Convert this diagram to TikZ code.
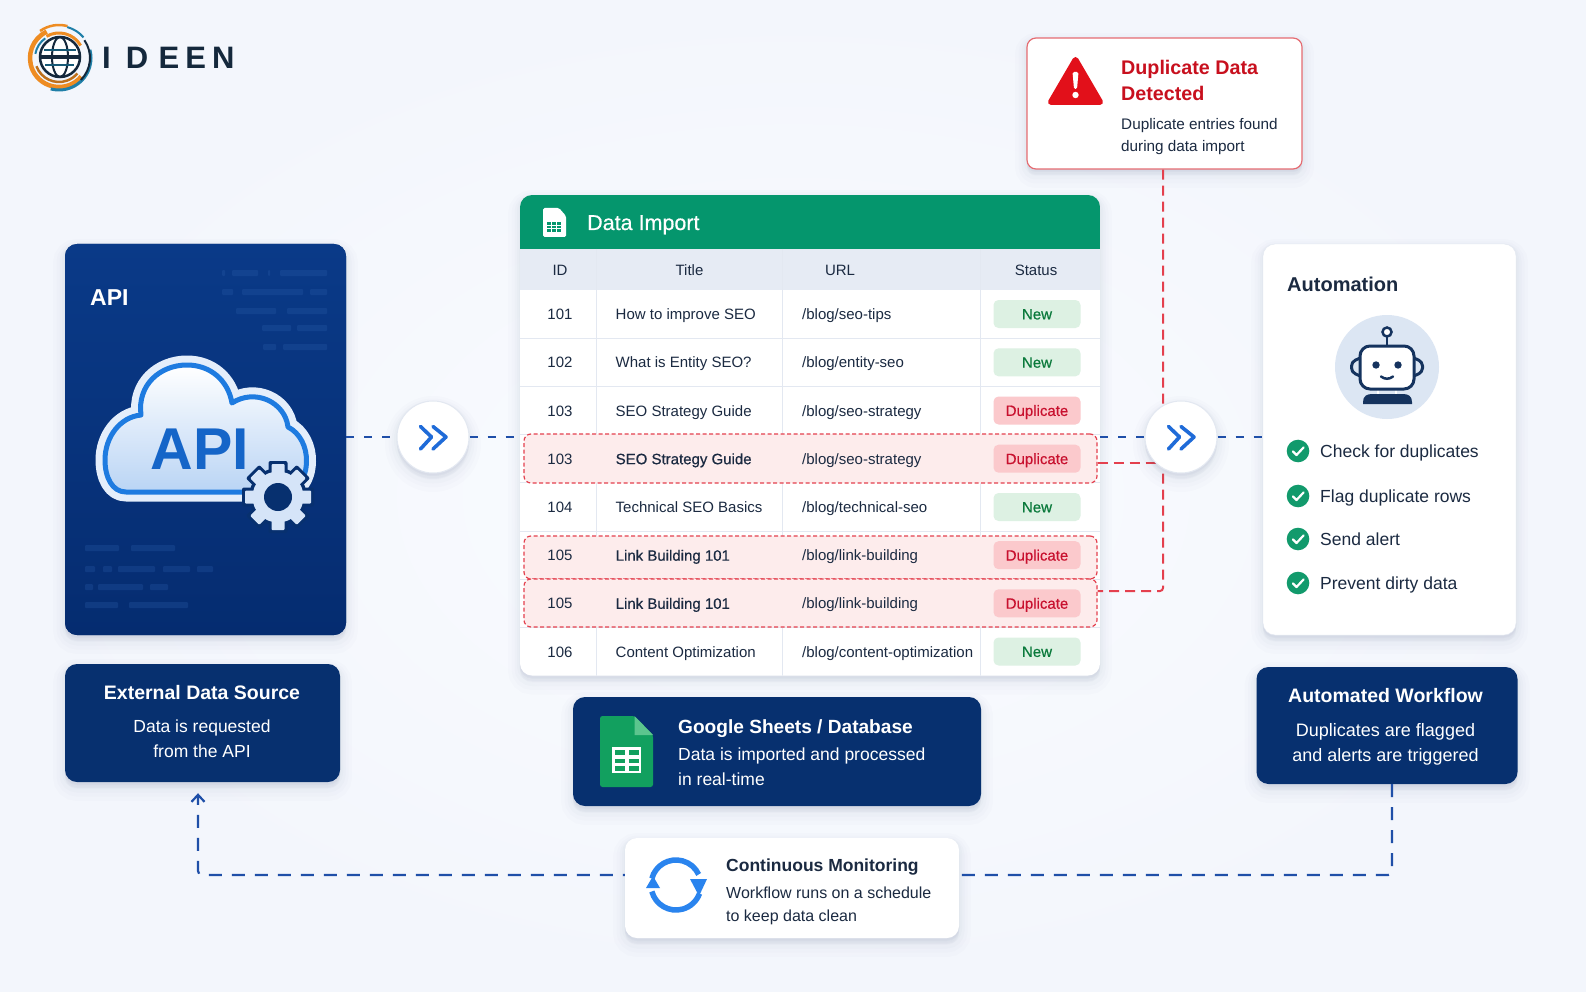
\documentclass[tikz,border=0pt]{standalone}
\usepackage{fontspec}
\setmainfont{Liberation Sans}
\newfontfamily\medfont[FakeBold=0.5]{Liberation Sans}
\usetikzlibrary{arrows.meta}

\definecolor{bgcenter}{HTML}{FAFCFF}
\definecolor{bgedge}{HTML}{F3F6FC}
\definecolor{navytop}{HTML}{0A3A88}
\definecolor{navybot}{HTML}{052C70}
\definecolor{navybox}{HTML}{07306F}
\definecolor{navybar}{HTML}{2A5CA8}
\definecolor{shadowblue}{HTML}{24406E}
\definecolor{sheetgreen}{HTML}{05966D}
\definecolor{iconGreen}{HTML}{12A05F}
\definecolor{foldgreen}{HTML}{5CC58E}
\definecolor{headgray}{HTML}{E6EBF4}
\definecolor{gridgray}{HTML}{E3E8F1}
\definecolor{inkdark}{HTML}{1B2A41}
\definecolor{pillnewbg}{HTML}{DDF1E3}
\definecolor{pillnewtx}{HTML}{0B7A3C}
\definecolor{pilldupbg}{HTML}{FBC9CC}
\definecolor{pilldnptx}{HTML}{C8102E}
\definecolor{rowpink}{HTML}{FDECEC}
\definecolor{reddash}{HTML}{E4404E}
\definecolor{bluedash}{HTML}{1F4FA8}
\definecolor{alertred}{HTML}{C8101E}
\definecolor{warnred}{HTML}{E2101A}
\definecolor{alertedge}{HTML}{E56C72}
\definecolor{skyblue}{HTML}{1E7BE0}
\definecolor{apiblue}{HTML}{1565C8}
\definecolor{chevblue}{HTML}{1F6BD8}
\definecolor{syncblue}{HTML}{2A84EE}
\definecolor{checkgreen}{HTML}{129A6C}
\definecolor{robotnavy}{HTML}{15335E}
\definecolor{robotbg}{HTML}{DCE6F3}
\definecolor{gearfill}{HTML}{D5E4F8}
\definecolor{cloudhalo}{HTML}{E4EEFB}
\definecolor{logoorange}{HTML}{EE8C22}
\definecolor{logoteal}{HTML}{1F7FA8}
\definecolor{logodark}{HTML}{14283C}

\newcommand{\fs}[2]{\fontsize{#1}{#2}\selectfont}

\tikzset{
    softshadow/.style={
        preaction={draw=shadowblue,fill=shadowblue,opacity=.012,line width=24,transform canvas={yshift=-7pt}},
        preaction={draw=shadowblue,fill=shadowblue,opacity=.012,line width=17,transform canvas={yshift=-6pt}},
        preaction={draw=shadowblue,fill=shadowblue,opacity=.014,line width=11,transform canvas={yshift=-5pt}},
        preaction={draw=shadowblue,fill=shadowblue,opacity=.014,line width=6,transform canvas={yshift=-3pt}},
        preaction={draw=shadowblue,fill=shadowblue,opacity=.014,line width=2,transform canvas={yshift=-2pt}},
    },
    navycard/.style={softshadow,rectangle,rounded corners=12,inner sep=0,fill=navybox},
    whitecard/.style={softshadow,rectangle,rounded corners=12,inner sep=0,fill=white},
    hopcircle/.style={softshadow,circle,inner sep=0,minimum size=72,fill=white,draw=gridgray,line width=1},
    txt/.style={inner sep=0,text=inkdark},
    whitetxt/.style={inner sep=0,text=white},
    cardtitle/.style={whitetxt,anchor=base,font=\fs{19.5}{24}\bfseries},
    cardbody/.style={whitetxt,align=center,font=\fs{17.5}{25}},
    pillnew/.style={rectangle,rounded corners=5,inner sep=0,minimum width=87,minimum height=28,
        text height=10.8pt,text depth=0pt,
        fill=pillnewbg,text=pillnewtx,font=\fs{15}{18}\medfont},
    pilldup/.style={pillnew,fill=pilldupbg,text=pilldnptx},
    duprow/.style={rectangle,rounded corners=7,inner sep=0,minimum width=573,
        fill=rowpink,draw=reddash,line width=1.2,dash pattern=on 4pt off 2.5pt},
    bluelink/.style={bluedash,line width=2,dash pattern=on 8pt off 10pt},
    redlink/.style={reddash,line width=2,dash pattern=on 10pt off 6pt,rounded corners=3},
    looplink/.style={bluedash,line width=2.2,dash pattern=on 13pt off 10pt,rounded corners=4},
    robotline/.style={robotnavy,line width=3},
}

\begin{document}
\begin{tikzpicture}[x=1pt,y=-1pt]

    \useasboundingbox (0,0) rectangle (1586,992);
    \shade[inner color=bgcenter,outer color=bgedge] (0,0) rectangle (1586,992);

    % logo
    \begin{scope}[shift={(59,58)},y=1pt]
        \draw[logoorange,line width=4.5] (115:29) arc[start angle=115,end angle=320,radius=29];
        \draw[logoteal,line width=3] (255:32) arc[start angle=255,end angle=375,radius=32];
        \draw[logodark,line width=2] (-45:31) arc[start angle=-45,end angle=35,radius=31];
        \draw[logoorange,line width=2.5] (125:33) arc[start angle=125,end angle=75,radius=33];
        \draw[logoteal,line width=2] (75:32) arc[start angle=75,end angle=40,radius=32];
        \draw[logoorange,line width=3] (120:25) arc[start angle=120,end angle=30,radius=25];
        \draw[logoteal,line width=2] (170:24) arc[start angle=170,end angle=125,radius=24];
        \draw[logoorange!80!black,line width=2.5] (200:24) arc[start angle=200,end angle=320,radius=24];
        \draw[logodark,line width=2.5,fill=white] (1,1) circle (20);
        \draw[logodark,line width=2] (1,-19) arc[start angle=-90,end angle=90,x radius=8,y radius=20];
        \draw[logodark,line width=2] (1,21) arc[start angle=90,end angle=270,x radius=8,y radius=20];
        \draw[logodark,line width=4] (-18,1) -- (20,1);
        \draw[logoteal!70!black,line width=2.5] (-15,8) -- (17,8) (-14,-7) -- (15,-7);
    \end{scope}
    \node[txt,anchor=base west,font=\fs{31}{36}\bfseries,text=logodark] (logotext) at (102,69)
        {I\kern15pt D\kern10.5pt E\kern6pt E\kern6pt N};

    % cards that carry the links
    \node[navycard,minimum width=281,minimum height=391,top color=navytop,bottom color=navybot] (apicard) at (205.5,439.5) {};
    \node[navycard,minimum width=275,minimum height=118] (extcard) at (202.5,723) {};
    \node[navycard,minimum width=408,minimum height=109] (sheetscard) at (777,751.5) {};
    \node[whitecard,minimum width=334,minimum height=100] (monitorcard) at (792,888) {};
    \node[navycard,minimum width=261,minimum height=117] (flowcard) at (1387,725.5) {};
    \node[whitecard,minimum width=253,minimum height=391,draw=gridgray] (autocard) at (1389.5,439.5) {};
    \node[whitecard,minimum width=275,minimum height=131,rounded corners=9,draw=alertedge,line width=1.2] (alertcard) at (1164.5,103.5) {};
    \node[whitecard,minimum width=580,minimum height=480.5] (tablecard) at (810,435.25) {};

    % faint code lines on the api card
    \foreach \yy/\xa/\xb in {273/222/225,273/232/258,273/268/270,273/280/327,
        292/222/233,292/242/303,292/310/327,311/236/276,311/287/327,
        328/262/291,328/297/327,347/263/276,347/283/327,
        548/85/119,548/131/175,569/85/95,569/103/112,569/118/155,569/163/190,569/197/213,
        587/85/93,587/98/143,587/150/168,605/85/118,605/129/188}
        \fill[navybar,opacity=.3,rounded corners=1] (\xa,\yy-3) rectangle (\xb,\yy+3);

    \node[whitetxt,anchor=base west,font=\fs{23}{26}\bfseries] (apilabel) at (90,305) {API};

    % cloud
    \def\cloudPath{(126,492) .. controls (112,492) and (105,477) .. (105,460)
        .. controls (105,437) and (120,417) .. (141,415)
        .. controls (137,385) and (160,365) .. (187,365)
        .. controls (210,365) and (228,380) .. (232,403)
        .. controls (255,388) and (285,402) .. (288,427)
        .. controls (300,433) and (307,447) .. (306.5,462)
        .. controls (306,478) and (298,492) .. (282,492) -- cycle}
    \draw[cloudhalo,line width=19,line join=round] \cloudPath;
    \path[draw=skyblue,line width=5,line join=round,top color=white,bottom color=gearfill!85!skyblue] \cloudPath;
    \node[txt,text=apiblue,font=\fs{59}{60}\bfseries] (cloudtext) at (200,449) {API};

    % gear
    \def\gearX{278}
    \def\gearY{497}
    \foreach \a in {0,45,...,315}
        \fill[navybox,rotate around={\a:(\gearX,\gearY)},rounded corners=2] (\gearX-9.5,\gearY-36) rectangle (\gearX+9.5,\gearY);
    \fill[navybox] (\gearX,\gearY) circle (29);
    \foreach \a in {0,45,...,315}
        \fill[gearfill,rotate around={\a:(\gearX,\gearY)},rounded corners=1] (\gearX-6.5,\gearY-33) rectangle (\gearX+6.5,\gearY);
    \fill[gearfill] (\gearX,\gearY) circle (25.5);
    \fill[navybox] (\gearX,\gearY) circle (14);

    % table body
    \def\tableOutline{[rounded corners=12] (520,195) rectangle (1100,675.5)}
    \begin{scope}
        \clip \tableOutline;
        \fill[sheetgreen] (520,195) rectangle (1100,249);
        \fill[headgray] (520,249) rectangle (1100,290);
        \foreach \yy in {338.2,386.4,434.6,482.8,531,579.2,627.4}
            \draw[gridgray,line width=1] (520,\yy) -- (1100,\yy);
        \foreach \xx in {596,782,980.5}
            \draw[gridgray,line width=1] (\xx,249) -- (\xx,675.5);
    \end{scope}

    % sheet icon in the header
    \fill[white,rounded corners=1.5] (543,208) -- (559,208) -- (566,216) -- (566,237) -- (543,237) -- cycle;
    \fill[sheetgreen] (547,222) rectangle (561,232);
    \foreach \xx in {551.3,556.3}
        \draw[white,line width=1.2] (\xx,222) -- (\xx,232);
    \foreach \yy in {225.3,228.7}
        \draw[white,line width=1.2] (547,\yy) -- (561,\yy);
    \node[whitetxt,anchor=base west,font=\fs{21.5}{24}\medfont] (tabletitle) at (587,230) {Data Import};

    \node[txt,anchor=base,font=\fs{15}{18}] (headid) at (560,276) {ID};
    \node[txt,anchor=base,font=\fs{15}{18}] (headtitle) at (689.5,276) {Title};
    \node[txt,anchor=base,font=\fs{15}{18}] (headurl) at (840,276) {URL};
    \node[txt,anchor=base,font=\fs{15}{18}] (headstatus) at (1036,276) {Status};

    % flagged rows
    \node[duprow,minimum height=49] (dupA) at (810.5,458.5) {};
    \node[duprow,minimum height=43] (dupB) at (810.5,557.5) {};
    \node[duprow,minimum height=48] (dupC) at (810.5,603) {};

    % row number, y, id, title, url, text font, pill style, pill text
    \def\tablerow#1#2#3#4#5#6#7#8{
        \node[txt,anchor=base,font=\fs{15}{18}] (rowid#1) at (560,#2+5.5) {#3};
        \node[txt,anchor=base west,font=\fs{15}{18}#6] (rowtitle#1) at (615.5,#2+5.5) {#4};
        \node[txt,anchor=base west,font=\fs{15}{18}] (rowurl#1) at (802,#2+5.5) {#5};
        \node[#7] (rowpill#1) at (1037,#2) {#8};
    }
    \tablerow{1}{314}{101}{How to improve SEO}{/blog/seo-tips}{}{pillnew}{New}
    \tablerow{2}{362.3}{102}{What is Entity SEO?}{/blog/entity-seo}{}{pillnew}{New}
    \tablerow{3}{410.5}{103}{SEO Strategy Guide}{/blog/seo-strategy}{}{pilldup}{Duplicate}
    \tablerow{4}{458.7}{103}{SEO Strategy Guide}{/blog/seo-strategy}{\medfont}{pilldup}{Duplicate}
    \tablerow{5}{507}{104}{Technical SEO Basics}{/blog/technical-seo}{}{pillnew}{New}
    \tablerow{6}{555.2}{105}{Link Building 101}{/blog/link-building}{\medfont}{pilldup}{Duplicate}
    \tablerow{7}{603.3}{105}{Link Building 101}{/blog/link-building}{\medfont}{pilldup}{Duplicate}
    \tablerow{8}{651.5}{106}{Content Optimization}{/blog/content-optimization}{}{pillnew}{New}

    % red links run behind the second hop
    \coordinate (redbranch) at (1163,463);
    \coordinate (redcorner) at (1163,591);
    \draw[redlink] (alertcard.south -| redcorner) -- (redcorner) -- (dupC.east |- redcorner);
    \draw[redlink] (dupA.east |- redbranch) -- (redbranch);

    \node[hopcircle] (hopA) at (433,437) {};
    \node[hopcircle] (hopB) at (1181,437) {};
    \draw[bluelink] (apicard.east |- hopA) -- (hopA);
    \draw[bluelink] (hopA) -- (tablecard.west |- hopA);
    \draw[bluelink] (tablecard.east |- hopB) -- (hopB);
    \draw[bluelink] (hopB) -- (autocard.west |- hopB);
    \foreach \hop in {hopA,hopB}
        \draw[shift={(\hop)},chevblue,line width=3.6,line cap=round,line join=round]
            (-12.5,-10.5) -- (-1.5,0) -- (-12.5,12) (0,-10.5) -- (13,0) -- (0,12);

    % alert
    \fill[warnred,draw=warnred,line width=6,line join=round] (1075.5,60) -- (1100,102) -- (1051,102) -- cycle;
    \fill[white,rounded corners=1.5] (1072.5,72) -- (1078.5,72) -- (1077,89) -- (1074,89) -- cycle;
    \fill[white] (1075.5,95) circle (3.2);
    \node[txt,text=alertred,anchor=north west,align=left,font=\fs{19.7}{26}\bfseries] (alerttitle) at (1121,60) {Duplicate Data\\Detected};
    \node[txt,anchor=west,align=left,font=\fs{15.3}{22}] (alertbody) at (1121,136.5) {Duplicate entries found\\during data import};

    % automation
    \node[txt,anchor=base west,font=\fs{20}{24}\bfseries] (autotitle) at (1287,291) {Automation};
    \fill[robotbg] (1387,367) circle (52);
    \draw[robotline,rounded corners=4] (1360,358) -- (1351.5,362) -- (1351.5,372) -- (1360,376);
    \draw[robotline,rounded corners=4] (1414,358) -- (1422.5,362) -- (1422.5,372) -- (1414,376);
    \draw[robotnavy,line width=2.5] (1387,336.5) -- (1387,346);
    \draw[robotnavy,line width=2.5,fill=white] (1387,332) circle (4.5);
    \draw[white,line width=1.5] (1378,389) -- (1378,394) (1396,389) -- (1396,394);
    \draw[robotline,fill=white,rounded corners=10] (1360,346) rectangle (1414,389);
    \fill[robotnavy] (1376,365) circle (3.7);
    \fill[robotnavy] (1398,365) circle (3.7);
    \draw[robotnavy,line width=2.5,line cap=round] (1381,376.5) .. controls (1385,379.5) and (1389,379.5) .. (1393,376.5);
    \fill[robotnavy] (1363,404) -- (1363,402) .. controls (1363,396) and (1367,394) .. (1372,394)
        -- (1403,394) .. controls (1408,394) and (1412,396) .. (1412,402) -- (1412,404) -- cycle;
    \foreach \yy/\ctext [count=\ci] in {451/Check for duplicates,496/Flag duplicate rows,539/Send alert,583/Prevent dirty data} {
        \fill[checkgreen] (1298,\yy) circle (11.3);
        \draw[white,line width=2.2,line cap=round,line join=round] (1293,\yy+.5) -- (1296.5,\yy+4) -- (1303.5,\yy-3.5);
        \node[txt,anchor=base west,font=\fs{17.5}{20}] (check\ci) at (1320,\yy+6) {\ctext};
    }

    % captions
    \node[cardtitle] (exttitle) at (202,699) {External Data Source};
    \node[cardbody] (extbody) at (202,739) {Data is requested\\from the API};

    \fill[iconGreen,rounded corners=2.5] (600,716) -- (634.5,716) -- (653,735) -- (653,787) -- (600,787) -- cycle;
    \fill[foldgreen] (634.5,716) -- (653,735) -- (634.5,735) -- cycle;
    \fill[white] (612,747) rectangle (641,773);
    \foreach \xx in {615,629}
        \foreach \yy in {750,758.5,766}
            \fill[iconGreen] (\xx,\yy) rectangle (\xx+9.5,\yy+4.5);
    \node[cardtitle,anchor=base west,font=\fs{19.1}{24}\bfseries] (sheetstitle) at (678,733) {Google Sheets / Database};
    \node[cardbody,anchor=west,align=left] (sheetsbody) at (678,767) {Data is imported and processed\\in real-time};

    \begin{scope}[shift={(676,885)},y=1pt]
        \draw[syncblue,line width=5.5] (165:25) arc[start angle=165,end angle=25,radius=25];
        \draw[syncblue,line width=5.5] (195:25) arc[start angle=195,end angle=340,radius=25];
        \fill[syncblue] (14,6) -- (31,6) -- (23,-11) -- cycle;
        \fill[syncblue] (-30,-3) -- (-16,-3) -- (-23,9) -- cycle;
    \end{scope}
    \node[txt,anchor=base west,font=\fs{17.5}{20}\bfseries] (monitortitle) at (726,871) {Continuous Monitoring};
    \node[txt,anchor=west,align=left,font=\fs{16}{23}] (monitorbody) at (726,906) {Workflow runs on a schedule\\to keep data clean};

    \node[cardtitle] (flowtitle) at (1385.5,702) {Automated Workflow};
    \node[cardbody,font=\fs{18}{25}] (flowbody) at (1385.5,744) {Duplicates are flagged\\and alerts are triggered};

    % monitoring loop
    \coordinate (loopR) at (1392,875);
    \coordinate (loopL) at (198,875);
    \draw[looplink] (flowcard.south -| loopR) -- (loopR) -- (monitorcard.east |- loopR);
    \draw[looplink,dash phase=11pt,-{Straight Barb[length=7pt,width=13pt]},shorten >=11pt] (monitorcard.west |- loopL) -- (loopL) -- (extcard.south -| loopL);

\end{tikzpicture}
\end{document}
